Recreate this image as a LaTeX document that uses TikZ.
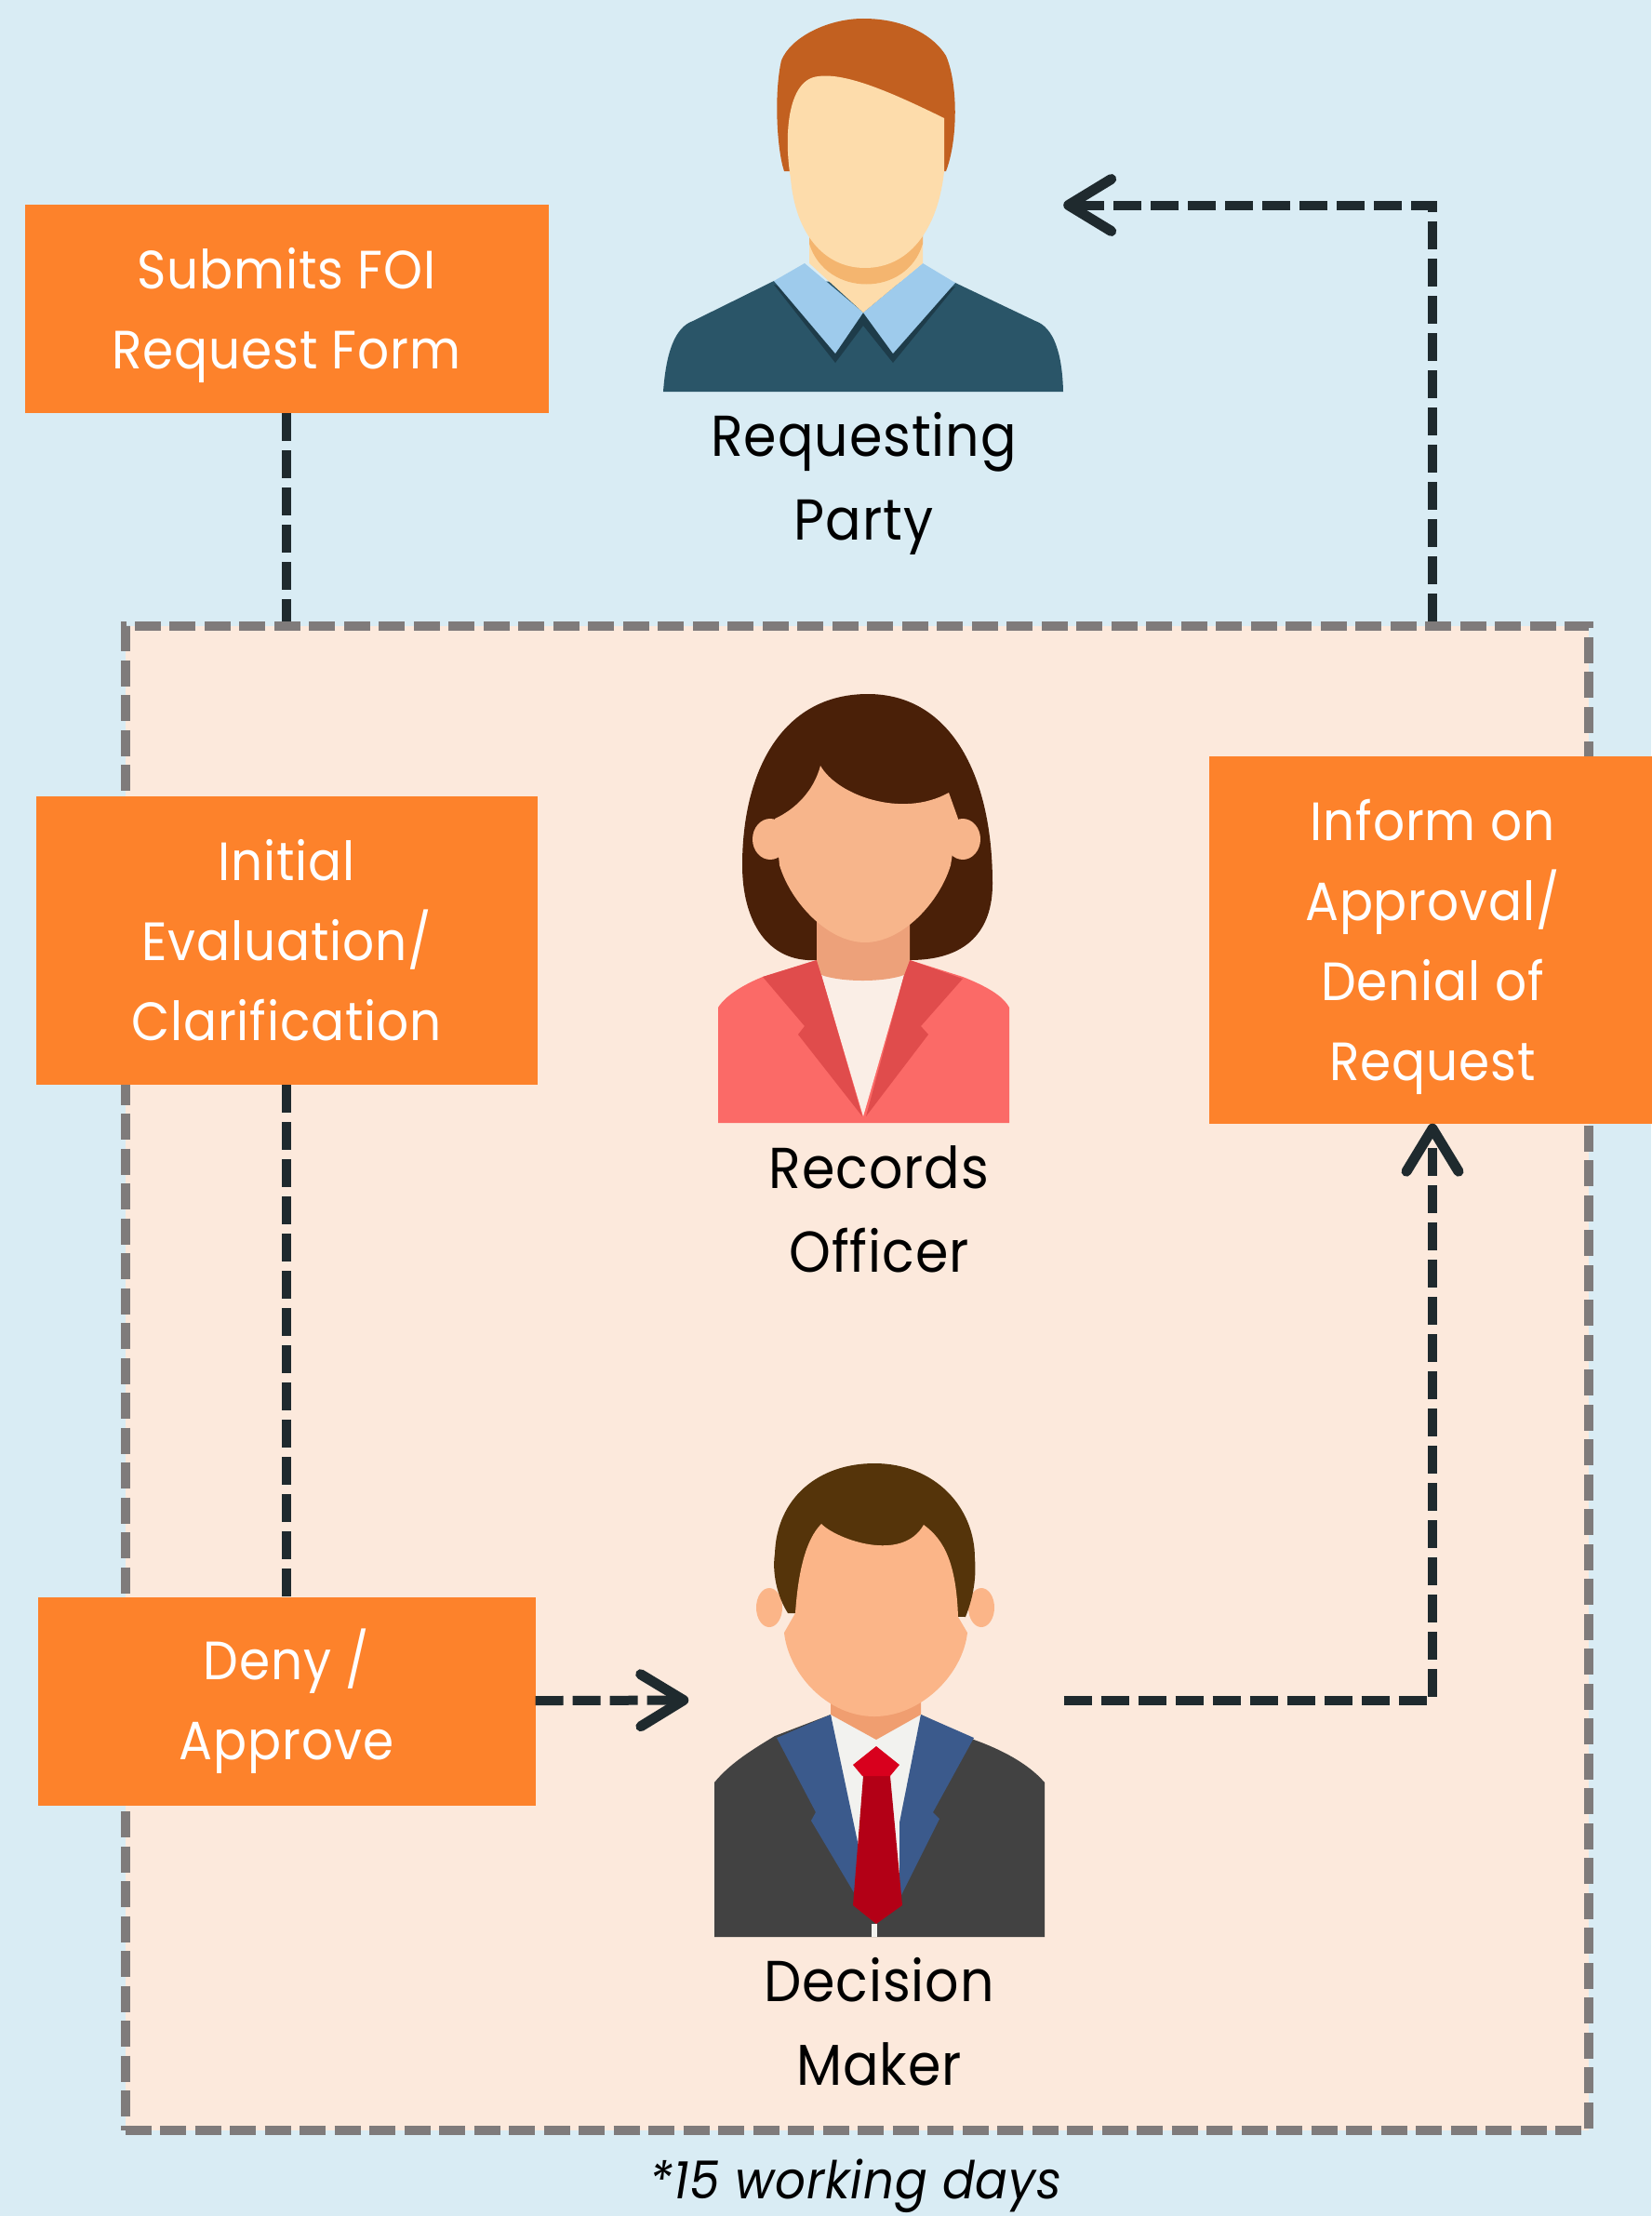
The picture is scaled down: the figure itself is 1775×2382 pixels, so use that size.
\documentclass[tikz,border=0pt]{standalone}
\usepackage{fontspec}
\setmainfont[FakeStretch=0.92,LetterSpace=1.5]{Poppins}
\usetikzlibrary{arrows.meta, positioning}

\definecolor{skyback}{HTML}{D9ECF4}
\definecolor{peachback}{HTML}{FCE9DC}
\definecolor{boxorange}{HTML}{FD822B}
\definecolor{panelgray}{HTML}{7F7B7B}
\definecolor{flowdark}{HTML}{1F2A2E}
\definecolor{partyhair}{HTML}{C26020}
\definecolor{partyskin}{HTML}{FDDCAB}
\definecolor{partyshade}{HTML}{F4B56F}
\definecolor{partycollar}{HTML}{9ECBEC}
\definecolor{partysweater}{HTML}{2A5568}
\definecolor{partyline}{HTML}{1E3C4A}
\definecolor{officerhair}{HTML}{4A2008}
\definecolor{officerskin}{HTML}{F7B58B}
\definecolor{officershade}{HTML}{EDA17A}
\definecolor{officerjacket}{HTML}{FB6A67}
\definecolor{officerlapel}{HTML}{E04C4C}
\definecolor{officershirt}{HTML}{FAEEE6}
\definecolor{makerhair}{HTML}{55340A}
\definecolor{makerskin}{HTML}{FBB588}
\definecolor{makershade}{HTML}{F09E70}
\definecolor{makerjacket}{HTML}{424242}
\definecolor{makerlapel}{HTML}{3B5A8C}
\definecolor{makershirt}{HTML}{F2F2EF}
\definecolor{makertie}{HTML}{B30016}
\definecolor{makerknot}{HTML}{D8001D}

\newcommand{\liftline}[1]{\rule{0pt}{#1}}

\begin{document}
\begin{tikzpicture}[x=1pt,y=-1pt,>={Straight Barb[length=46pt,width=56pt,line width=11pt,round]},
  actionbox/.style={fill=boxorange,text=white,align=center,inner sep=0pt,
    font=\fontsize{58}{86}\selectfont},
  personbox/.style={minimum width=#1,inner sep=0pt},
  rolelabel/.style={align=center,inner sep=0pt,text=black,
    font=\fontsize{62}{90}\selectfont},
  flow/.style={draw=flowdark,line width=10pt,dash pattern=on 30pt off 10pt},
  panel/.style={fill=peachback,draw=panelgray,line width=10pt,dash pattern=on 28pt off 9.5pt}]

% background and margins
  \fill[skyback] (0,0) rectangle (1775,2382);
  \useasboundingbox (0,0) rectangle (1775,2382);

% define the dashed panel and the boxes
  \node[panel,minimum width=1573pt,minimum height=1617pt,inner sep=0pt] (panel) at (921,1481) {};
  \node[actionbox,minimum width=563pt,minimum height=224pt] (submit) at (308,332)
{\liftline{59pt}Submits FOI\\Request Form};
  \node[actionbox,minimum width=539pt,minimum height=310pt] (evaluate) [below of=submit,node distance=679pt]
{Initial\\Evaluation/\\Clarification};
  \node[actionbox,minimum width=535pt,minimum height=224pt] (deny) [below of=evaluate,node distance=818pt]
{\liftline{48pt}Deny /\\Approve};
  \node[actionbox,minimum width=480pt,minimum height=395pt] (inform) at (1540,1010)
{\liftline{60pt}Inform on\\Approval/\\Denial of\\Request};

% define the people (only their frames, the drawings follow)
  \node[personbox=429pt,minimum height=401pt] (party) at (928.5,220.5) {};
  \node[personbox=315pt,minimum height=462pt] (officer) at (928,977) {};
  \node[personbox=403pt,minimum height=509pt] (decision) at (942,1827.5) {};

% requesting party
  \fill[partysweater] (713,421) .. controls (716,380) and (725,352) .. (745,345)
    -- (832,302) -- (1027,304) -- (1113,345) .. controls (1133,352) and (1142,380) .. (1143,421) -- cycle;
  \fill[partyline] (832,306) -- (898,390) -- (928,350) -- (960,390) -- (1027,308) -- (928,336) -- cycle;
  \fill[partycollar] (832,302) -- (865,283) -- (928,336) -- (898,380) -- cycle;
  \fill[partycollar] (1027,304) -- (992,283) -- (928,336) -- (960,380) -- cycle;
  \fill[partyskin] (870,240) -- (992,240) -- (992,283) -- (928,336) -- (870,283) -- cycle;
  \fill[partyshade] (870,245) -- (992,245) -- (992,262) .. controls (975,320) and (888,320) .. (870,262) -- cycle;
  \fill[partyhair] (843,184) .. controls (835,160) and (832,100) .. (840,65) .. controls (850,40) and (890,20) .. (928,20)
    .. controls (975,20) and (1005,40) .. (1017,60) .. controls (1030,90) and (1030,150) .. (1017,184) -- cycle;
  \fill[partyskin] (880,82) .. controls (910,78) and (960,100) .. (1015,127) -- (1015,184)
    .. controls (1008,250) and (975,288) .. (930,288) .. controls (885,288) and (855,250) .. (850,192)
    .. controls (843,150) and (845,85) .. (880,82) -- cycle;

% records officer
  \fill[officerhair] (878,1032) .. controls (825,1035) and (798,990) .. (798,930) .. controls (798,830) and (840,746) .. (933,746)
    .. controls (1020,746) and (1067,830) .. (1067,950) .. controls (1067,1000) and (1040,1032) .. (978,1032) -- cycle;
  \fill[officerjacket] (772,1207) -- (772,1083) .. controls (780,1070) and (800,1058) .. (820,1050)
    -- (878,1032) -- (978,1032) -- (1035,1050) .. controls (1060,1060) and (1078,1070) .. (1085,1083) -- (1085,1207) -- cycle;
  \fill[officershirt] (883,1048) -- (972,1048) -- (928,1200) -- cycle;
  \fill[officerlapel] (878,1032) -- (820,1050) -- (865,1103) -- (858,1112) -- (927,1200) -- (883,1048) -- cycle;
  \fill[officerlapel] (978,1032) -- (1035,1052) -- (990,1103) -- (998,1112) -- (931,1200) -- (972,1048) -- cycle;
  \fill[officershade] (878,980) -- (978,980) -- (978,1032) -- (972,1048) .. controls (950,1056) and (905,1056) .. (883,1048) -- (878,1032) -- cycle;
  \fill[officerskin] (828,902) circle [x radius=19pt,y radius=22pt];
  \fill[officerskin] (1035,902) circle [x radius=19pt,y radius=22pt];
  \fill[officerskin] (882,823) .. controls (900,855) and (970,880) .. (1020,852) -- (1030,880) -- (1022,930)
    .. controls (1010,970) and (970,1013) .. (930,1013) .. controls (890,1013) and (850,970) .. (838,930)
    -- (833,880) .. controls (855,870) and (875,850) .. (882,823) -- cycle;

% decision maker
  \fill[makerjacket] (768,2082) -- (768,1916) .. controls (785,1895) and (810,1880) .. (833,1866)
    -- (893,1843) -- (990,1843) -- (1047,1870) .. controls (1075,1880) and (1105,1895) .. (1123,1916) -- (1123,2082) -- cycle;
  \fill[makershirt] (893,1843) -- (990,1843) -- (968,2010) -- (942,2068) -- (918,2010) -- cycle;
  \fill[makerlapel] (893,1843) -- (835,1868) -- (877,1948) -- (872,1957) -- (922,2041) -- (922,1980) -- cycle;
  \fill[makerlapel] (990,1843) -- (1047,1868) -- (1003,1948) -- (1010,1955) -- (967,2041) -- (967,1959) -- cycle;
  \fill[makershade] (893,1800) -- (990,1800) -- (990,1843) -- (942,1870) -- (893,1843) -- cycle;
  \fill[makerskin] (827,1728) circle [x radius=14pt,y radius=21pt];
  \fill[makerskin] (1055,1728) circle [x radius=14pt,y radius=21pt];
  \fill[makerhair] (847,1734) .. controls (835,1715) and (830,1690) .. (833,1670) .. controls (835,1610) and (880,1573) .. (940,1573)
    .. controls (1005,1573) and (1048,1620) .. (1048,1675) .. controls (1050,1700) and (1045,1720) .. (1038,1738) -- cycle;
  \fill[makerskin] (883,1638) .. controls (900,1655) and (970,1680) .. (993,1639) .. controls (1015,1655) and (1028,1680) .. (1030,1738)
    -- (1040,1755) .. controls (1035,1800) and (990,1845) .. (940,1845) .. controls (890,1845) and (848,1800) .. (843,1755)
    -- (855,1734) .. controls (858,1690) and (866,1655) .. (883,1638) -- cycle;
  \fill[makertie] (928,1909) -- (957,1909) -- (970,2048) -- (942,2068) -- (917,2048) -- cycle;
  \fill[makerknot] (942,1877) -- (967,1897) -- (957,1909) -- (927,1909) -- (917,1897) -- cycle;
  \fill[makershirt] (937,2068) rectangle (943,2082);

% define the labels
  \node[rolelabel] (partytext) [below=22pt of party]
{Requesting\\Party};
  \node[rolelabel] (officertext) at (945,1300)
{Records\\Officer};
  \node[rolelabel] (decisiontext) [below=22pt of decision,xshift=3pt]
{Decision\\Maker};
  \node[inner sep=0pt,font=\fontsize{56}{66}\selectfont\itshape] (daysnote) at (920,2350)
{*15 working days};

% define the links
  \path[flow] (submit) -- (submit |- panel.north)
              (evaluate) -- (deny);
  \path[flow,->] (inform |- panel.north) |- (party.east);
  \path[flow,->] (deny) -- (decision.west);
  \path[flow,->] (decision.east) -- ++(20pt,0) -| (inform);

\end{tikzpicture}
\end{document}
